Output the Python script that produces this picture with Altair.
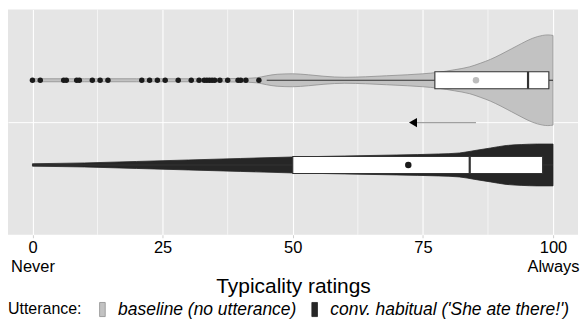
import altair as alt
import pandas as pd

# ---- data ----
groups = ["baseline (no utterance)", "conv. habitual ('She ate there!')"]
group_pos = [2, 1]
fill_colors = ["#C2C2C2", "#262626"]
stroke_colors = ["#8F8F8F", "#262626"]

# violin outlines: rating -> relative half-width
base_vx = [0, 10, 20, 30, 40, 43, 45, 47, 50, 53, 56, 60, 64, 68, 72, 75, 78, 81, 84, 86, 88, 90, 92, 94, 96, 98, 99, 100]
base_vw = [1.5, 1.5, 1.5, 1.5, 1.8, 2.5, 4.5, 6, 6.5, 5.5, 4, 3, 3.5, 4.5, 5.5, 6.5, 8, 10.5, 13.5, 17, 21, 26, 31.5, 37, 42, 45, 45.5, 45]
hab_vx = [0, 10, 20, 30, 40, 50, 60, 70, 78, 82, 85, 88, 91, 94, 97, 100]
hab_vw = [1.2, 2, 3.5, 5, 6.5, 8, 9, 10, 11, 12, 14.5, 17, 19.5, 20.5, 21, 21]
width_unit = 85.0

# box plot statistics
q1 = [77.3, 50]
median = [95.2, 84]
q3 = [99.2, 98]
whisk_lo = [45, 0]
whisk_hi = [100, 100]
means = [85.2, 72.2]
box_half = 0.1

# outliers of the baseline group
outliers = [0, 1.5, 6, 6.5, 8.5, 9, 11.5, 13, 14.5, 21, 22.5, 24, 25.5, 28, 30.5,
            32, 33, 33.5, 34, 34.5, 35, 36, 37.5, 39.5, 40, 41, 43.5]

arrow_from = 85.2
arrow_to = 73.1
arrow_pos = 1.5

minor_breaks = [12.5, 37.5, 62.5, 87.5]
major_breaks = [0, 25, 50, 75, 100]

# ---- tables ----
vrows = []
for g, p, xs, ws in [(groups[0], group_pos[0], base_vx, base_vw), (groups[1], group_pos[1], hab_vx, hab_vw)]:
    for x, w in zip(xs, ws):
        vrows.append({"group": g, "rating": x, "lo": p - w / width_unit, "hi": p + w / width_unit})
violin_df = pd.DataFrame(vrows)

box_df = pd.DataFrame({
    "group": groups, "pos": group_pos, "q1": q1, "median": median, "q3": q3,
    "wlo": whisk_lo, "whi": whisk_hi, "mean": means,
})
box_df["ylo"] = box_df["pos"] - box_half
box_df["yhi"] = box_df["pos"] + box_half

out_df = pd.DataFrame({"rating": outliers, "pos": [group_pos[0]] * len(outliers)})
mean_df = pd.DataFrame({"rating": means, "pos": group_pos, "group": groups})
arrow_df = pd.DataFrame({"x1": [arrow_from], "x2": [arrow_to], "pos": [arrow_pos]})
minor_df = pd.DataFrame({"rating": minor_breaks})

xscale = alt.Scale(domain=[-4.7, 104.8], nice=False, zero=False)
yscale = alt.Scale(domain=[0.176, 2.835], nice=False, zero=False)

label_expr = ("datum.value == 0 ? ['0', 'Never'] : "
              "datum.value == 100 ? ['100', 'Always'] : datum.label")

xaxis = alt.Axis(values=major_breaks, title="Typicality ratings", labelExpr=label_expr,
                 grid=True, gridColor="white", gridWidth=1.1, domain=False,
                 ticks=True, tickSize=3, tickColor="#CFCFCF",
                 labelFontSize=16.5, labelLineHeight=19, labelColor="black",
                 labelPadding=2, titleFontSize=21, titleFontWeight="normal",
                 titleColor="black", titlePadding=0)
yaxis = alt.Axis(values=[arrow_pos], grid=True, gridColor="white", gridWidth=1,
                 labels=False, ticks=False, domain=False, title=None)

minor = alt.Chart(minor_df).mark_rule(color="white", strokeWidth=0.6).encode(
    x=alt.X("rating:Q", scale=xscale, axis=xaxis),
)

violin = alt.Chart(violin_df).mark_area(strokeWidth=0.8, interpolate="monotone").encode(
    x=alt.X("rating:Q", scale=xscale, axis=xaxis),
    y=alt.Y("lo:Q", scale=yscale, axis=yaxis),
    y2="hi:Q",
    fill=alt.Fill("group:N", scale=alt.Scale(domain=groups, range=fill_colors),
                  legend=alt.Legend(title="Utterance:")),
    stroke=alt.Stroke("group:N", scale=alt.Scale(domain=groups, range=stroke_colors), legend=None),
    detail="group:N",
)

whisk_l = alt.Chart(box_df).mark_rule(color="#333333", strokeWidth=1.1).encode(
    x="wlo:Q", x2="q1:Q", y=alt.Y("pos:Q", scale=yscale))
whisk_r = alt.Chart(box_df).mark_rule(color="#333333", strokeWidth=1.1).encode(
    x="q3:Q", x2="whi:Q", y=alt.Y("pos:Q", scale=yscale))
box = alt.Chart(box_df).mark_rect(fill="white", stroke="#333333", strokeWidth=1.1).encode(
    x="q1:Q", x2="q3:Q", y="ylo:Q", y2="yhi:Q")
med = alt.Chart(box_df).mark_rule(color="#333333", strokeWidth=2.2).encode(
    x="median:Q", y="ylo:Q", y2="yhi:Q")

pts = alt.Chart(out_df).mark_circle(color="#1A1A1A", opacity=1, size=30).encode(
    x="rating:Q", y="pos:Q")

mean_pts = alt.Chart(mean_df).mark_circle(opacity=1, size=42).encode(
    x="rating:Q", y="pos:Q",
    color=alt.Color("group:N", scale=alt.Scale(domain=groups, range=["#BDBDBD", "#1A1A1A"]), legend=None),
)

arrow_line = alt.Chart(arrow_df).mark_rule(color="#A0A0A0", strokeWidth=1.2).encode(
    x="x1:Q", x2="x2:Q", y="pos:Q")
arrow_head = alt.Chart(arrow_df).mark_point(shape="triangle-left", filled=True, color="black",
                                             opacity=1, size=85).encode(
    x="x2:Q", y="pos:Q")

chart = alt.layer(minor, violin, whisk_l, whisk_r, box, med, pts, mean_pts, arrow_line, arrow_head).properties(
    width=572, height=226, padding=0,
).resolve_scale(color="independent").configure(
    font="Liberation Sans",
).configure_view(
    fill="#E5E5E5", stroke=None,
).configure_legend(
    orient="none", legendX=0, legendY=292, direction="horizontal",
    titleOrient="left", titleFontSize=16, titleFontWeight="normal", titleColor="black",
    titlePadding=12, titleBaseline="middle",
    labelFontSize=17.5, labelFontStyle="italic", labelColor="black", labelOffset=7, labelLimit=0,
    symbolType="M-0.4,-1L0.4,-1L0.4,1L-0.4,1Z", symbolSize=200, symbolStrokeWidth=0.8,
    columnPadding=9, padding=0,
)

chart.save("out.html", embed_options={"renderer": "svg", "actions": False})
